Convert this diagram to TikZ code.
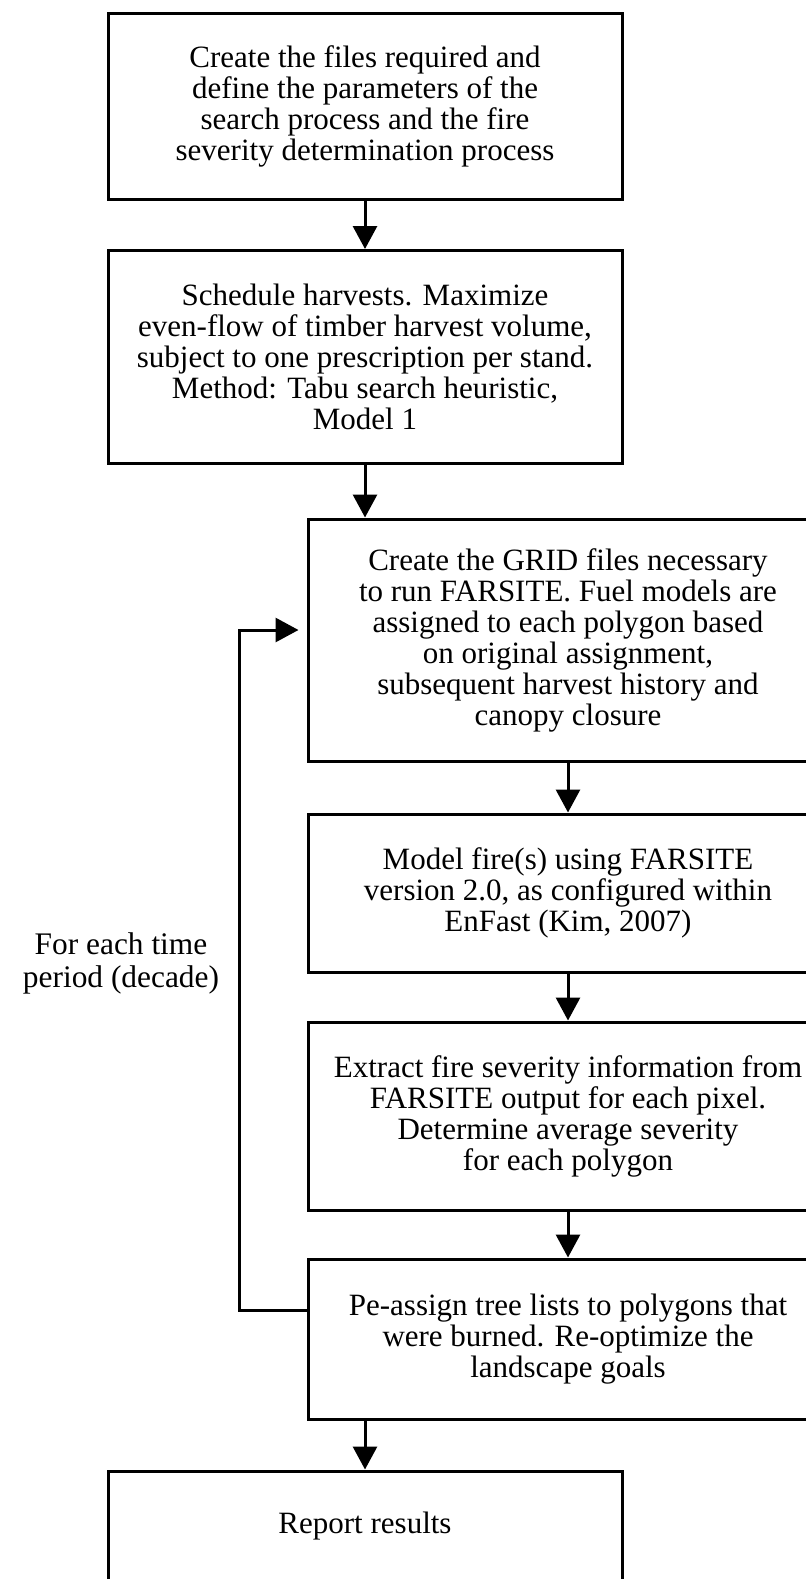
\documentclass[tikz,border=0pt]{standalone}
\usepackage{fontspec}
\setmainfont{Liberation Serif}
\usetikzlibrary{arrows.meta}

\begin{document}
\begin{tikzpicture}[x=0.5pt, y=-0.5pt,
  stepbox/.style={draw, line width=1.5pt, align=center, inner sep=0pt,
    font=\fontsize{15.5pt}{15.5pt}\selectfont},
  flow/.style={line width=1.5pt, -{Triangle[length=11.5pt, width=12pt]}}]
 \useasboundingbox (0,0) rectangle (806,1579);

 % left column
 \node[stepbox, minimum width=257pt, minimum height=93pt] (files) at (365,106)
  {Create the files required and\\define the parameters of the\\search process and the fire\\severity determination process};
 \node[stepbox, minimum width=257pt, minimum height=106.5pt] (harvest) at (365,357)
  {Schedule harvests. Maximize\\even-flow of timber harvest volume,\\subject to one prescription per stand.\\Method: Tabu search heuristic,\\Model 1};

 % right column
 \node[stepbox, minimum width=260pt, minimum height=121pt] (grid) at (568,640)
  {Create the GRID files necessary\\to run FARSITE. Fuel models are\\assigned to each polygon based\\on original assignment,\\subsequent harvest history and\\canopy closure};
 \node[stepbox, minimum width=260pt, minimum height=79pt] (fire) at (568,893)
  {Model fire(s) using FARSITE\\version 2.0, as configured within\\EnFast (Kim, 2007)};
 \node[stepbox, minimum width=260pt, minimum height=94pt] (severity) at (568,1116)
  {Extract fire severity information from\\FARSITE output for each pixel.\\Determine average severity\\for each polygon};
 \node[stepbox, minimum width=260pt, minimum height=80pt] (reassign) at (568,1339)
  {Pe-assign tree lists to polygons that\\were burned. Re-optimize the\\landscape goals};

 \node[stepbox, minimum width=257pt, minimum height=55pt] (report) at (365,1526)
  {Report results};

 \node[align=center, font=\fontsize{15.7pt}{16.5pt}\selectfont] (period) at (121,963)
  {For each time\\period (decade)};

 \draw[flow] (files) -- (harvest);
 \draw[flow] (harvest.south) -- (harvest.south |- grid.north);
 \draw[flow] (grid) -- (fire);
 \draw[flow] (fire) -- (severity);
 \draw[flow] (severity) -- (reassign);
 \draw[flow] (report.north |- reassign.south) -- (report.north);

 % loop back for each decade
 \coordinate (loopturn) at (239,1310);
 \draw[flow, shorten >=4pt] ([yshift=14.5pt]reassign.west) -| (loopturn) |- ([yshift=5pt]grid.west);
\end{tikzpicture}
\end{document}
